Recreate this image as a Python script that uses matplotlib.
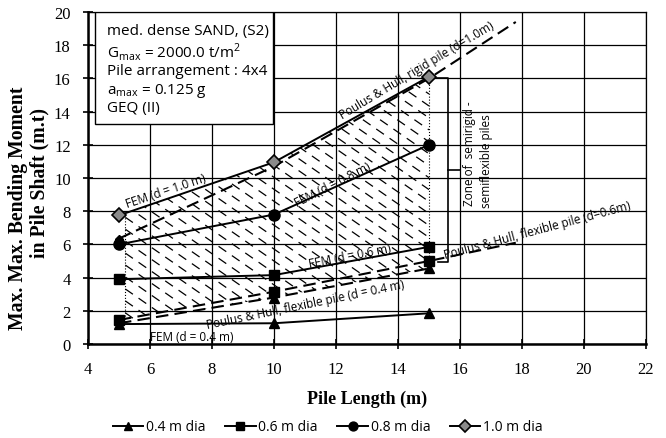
import numpy as np
import matplotlib
matplotlib.use("Agg")
import matplotlib.pyplot as plt
from matplotlib.patches import Rectangle, Polygon
from matplotlib.transforms import Bbox, TransformedBbox

# ---------------- data ----------------
pile_length = [5, 10, 15]
fem_04 = [1.2, 1.25, 1.85]
fem_06 = [3.9, 4.15, 5.85]
fem_08 = [6.0, 7.8, 12.0]
fem_10 = [7.75, 10.95, 16.1]

ph_rigid_x = [5, 10, 15, 17.8]
ph_rigid_10 = [6.35, 10.7, 16.0, 19.4]
ph_flex_x06 = [5, 10, 15, 17.8]
ph_flex_06 = [1.45, 3.15, 5.0, 6.1]
ph_flex_x04 = [5, 10, 15]
ph_flex_04 = [1.25, 2.8, 4.55]

zone_left = 5.2
zone_right = 15

legend_labels = ["0.4 m dia", "0.6 m dia", "0.8 m dia", "1.0 m dia"]
x_ticks = list(range(4, 23, 2))
y_ticks = list(range(0, 21, 2))

# ---------------- figure ----------------
fig = plt.figure(figsize=(6.66, 4.39), dpi=100)
ax = fig.add_axes([88/666, 1-345/439, 558/666, 332/439])
ax.set_xlim(4, 22)
ax.set_ylim(0, 20)
ax.set_xticks(x_ticks)
ax.set_yticks(y_ticks)
ax.grid(True, color="black", linewidth=0.9, zorder=0)
ax.set_axisbelow(True)
for s in ["top", "right"]:
    ax.spines[s].set_linewidth(0.9)
for s in ["left", "bottom"]:
    ax.spines[s].set_linewidth(1.8)
ax.tick_params(direction="inout", length=7, width=1.2, labelsize=12, pad=9)
for lab in ax.get_xticklabels() + ax.get_yticklabels():
    lab.set_family("Liberation Serif")

# ---------------- hatched zone ----------------
xs = np.linspace(zone_left, zone_right, 60)
top = np.interp(xs, pile_length, fem_10)
bot = np.interp(xs, ph_flex_x04, ph_flex_04)
poly_xy = np.vstack([np.column_stack([xs, top]), np.column_stack([xs[::-1], bot[::-1]])])
zone = Polygon(poly_xy, closed=True, facecolor="none", edgecolor="none")
ax.add_patch(zone)
m = -1.3
for b in np.arange(0, 45, 0.72):
    hx = np.array([zone_left, zone_right])
    ln, = ax.plot(hx, m*hx + b, color="black", lw=0.9, dashes=(7.5, 5.5), zorder=1.5)
    ln.set_clip_path(zone)

# dotted borders of the zone
ax.plot([zone_left, zone_left], [np.interp(zone_left, ph_flex_x04, ph_flex_04),
        np.interp(zone_left, pile_length, fem_10)], color="black", lw=0.8, ls=":", zorder=2)
ax.plot([zone_right, zone_right], [ph_flex_04[-1], fem_10[-1]], color="black", lw=0.8, ls=":", zorder=2)

# ---------------- Poulus & Hull dashed ----------------
ax.plot(ph_rigid_x, ph_rigid_10, color="black", lw=1.5, dashes=(6, 3), zorder=3)
ax.plot(ph_rigid_x[:1], ph_rigid_10[:1], marker="D", ms=4.5, color="black", ls="none", zorder=4)
ax.plot(ph_flex_x06, ph_flex_06, color="black", lw=1.5, dashes=(6, 3), zorder=3)
ax.plot(ph_flex_x06[:3], ph_flex_06[:3], marker="s", ms=6.5, color="black", ls="none", zorder=4)
ax.plot(ph_flex_x04, ph_flex_04, color="black", lw=1.5, dashes=(6, 3), zorder=3)
ax.plot(ph_flex_x04[1:], ph_flex_04[1:], marker="^", ms=6.5, color="black", ls="none", zorder=4)

# ---------------- FEM solid ----------------
h1, = ax.plot(pile_length, fem_04, color="black", lw=1.4, marker="^", ms=7, zorder=5, label=legend_labels[0])
h2, = ax.plot(pile_length, fem_06, color="black", lw=1.4, marker="s", ms=7, zorder=5, label=legend_labels[1])
h3, = ax.plot(pile_length, fem_08, color="black", lw=1.4, marker="o", ms=8, zorder=5, label=legend_labels[2])
h4, = ax.plot(pile_length, fem_10, color="black", lw=1.4, marker="D", ms=7.5, mfc="#8a8a8a",
              mec="black", mew=1.2, zorder=5, label=legend_labels[3])

# ---------------- bracket ----------------
bx = 15.6
ax.plot([15.15, bx, bx, 15.3], [16.0, 16.0, 4.95, 4.95], color="black", lw=1.2, zorder=4)
ax.plot([bx, 16.0], [10.5, 10.5], color="black", lw=1.2, zorder=4)
tf = dict(family="Open Sans", fontsize=8.5, color="black", rotation=90, ha="center", va="center")
ax.text(16.3, 11.55, "Zone of  semirigid -", **tf)
ax.text(16.85, 11.1, "semiflexible piles", **tf)

# ---------------- curve labels ----------------
lf = dict(family="Open Sans", fontsize=8.5, color="black", ha="center", va="center",
          rotation_mode="anchor", zorder=6)
ax.text(14.6, 16.5, "Poulus & Hull, rigid pile (d=1.0m)", rotation=31, **lf)
ax.text(6.5, 9.25, "FEM (d = 1.0 m)", rotation=18.5, **lf)
ax.text(11.9, 9.6, "FEM (d = 0.8 m)", rotation=27, **lf)
ax.text(12.45, 5.35, "FEM (d = 0.6 m)", rotation=11, **lf)
ax.text(11.0, 2.4, "Poulus & Hull, flexible pile (d = 0.4 m)", rotation=11.7, **lf)
ax.text(7.35, 0.45, "FEM (d = 0.4 m)", rotation=0, **lf)
ax.text(18.5, 6.9, "Poulus & Hull, flexible pile (d=0.6m)", rotation=15, **lf)

# ---------------- info box ----------------
ax.add_patch(Rectangle((0.0125, 0.663), 0.3195, 0.337, transform=ax.transAxes,
                       facecolor="white", edgecolor="black", lw=1.0, zorder=7))
info = ["med. dense SAND, (S2)", r"G$_{\mathregular{max}}$ = 2000.0 t/m$^{\mathregular{2}}$",
        "Pile arrangement : 4x4", r"a$_{\mathregular{max}}$ = 0.125 g", "GEQ (II)"]
ys = [0.943, 0.883, 0.824, 0.765, 0.711]
for t, yy in zip(info, ys):
    ax.text(0.034, yy, t, transform=ax.transAxes, family="Open Sans", fontsize=11,
            ha="left", va="center", zorder=8)

# ---------------- axis labels ----------------
ax.set_xlabel("Pile Length (m)", family="Liberation Serif", fontweight="bold", fontsize=13, labelpad=9)
yl1 = fig.text(18/666, 1 - 330/439, "Max. Max. Bending Moment", rotation=90,
               family="Liberation Serif", fontweight="bold", fontsize=14.2, ha="center", va="bottom")
yl1.set_clip_box(TransformedBbox(Bbox([[0, 0], [1, 1 - 68/439]]), fig.transFigure))
yl1.set_clip_on(True)
fig.text(39/666, 1 - 183/439, "in Pile Shaft (m.t)", rotation=90,
         family="Liberation Serif", fontweight="bold", fontsize=14.2, ha="center", va="center")

# ---------------- legend ----------------
fig.legend(handles=[h1, h2, h3, h4], loc="center", bbox_to_anchor=(0.492, 1 - 428/439), ncol=4,
           frameon=False, prop={"family": "Open Sans", "size": 10}, handlelength=2.2,
           handletextpad=0.2, columnspacing=1.4, markerscale=0.8)

fig.savefig("out.png", dpi=100)
